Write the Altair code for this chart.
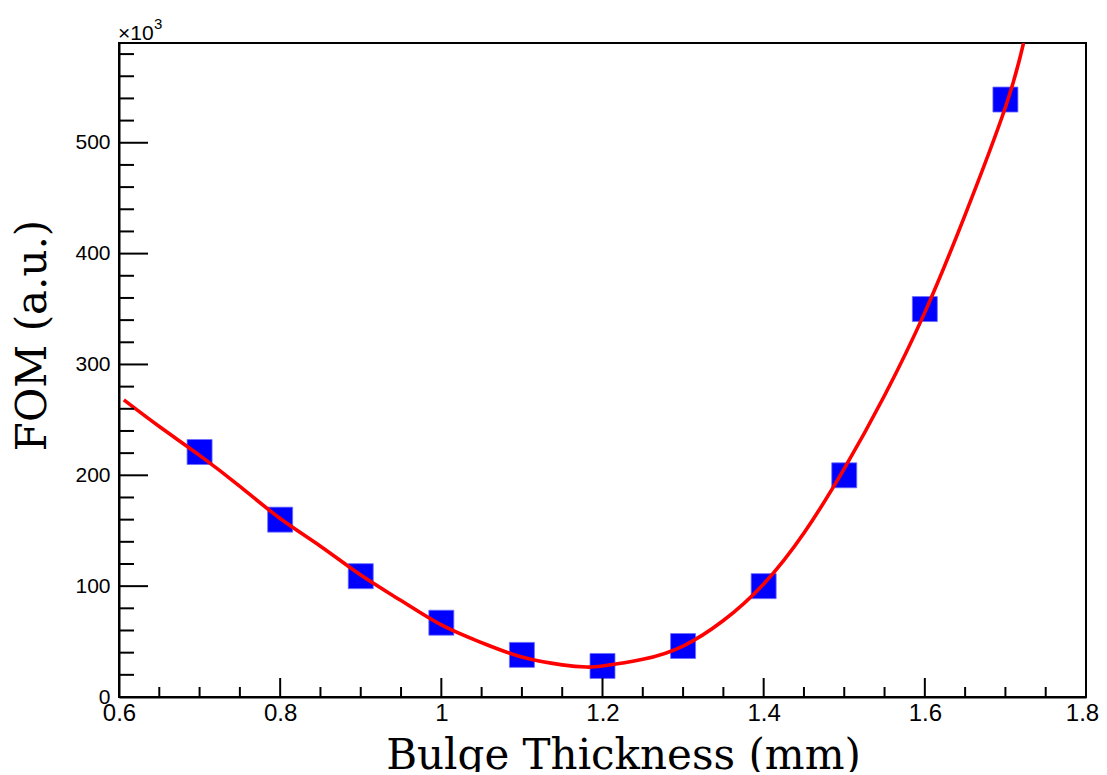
import altair as alt
import pandas as pd

# Measured data points (FOM in units of 10^3)
x_pts = [0.7, 0.8, 0.9, 1.0, 1.1, 1.2, 1.3, 1.4, 1.5, 1.6, 1.7]
y_pts = [221, 160, 109, 67, 38, 28, 46, 100, 200, 350, 539]

# Fit curve
fit_x = [0.606, 0.65, 0.70, 0.75, 0.80, 0.85, 0.90, 0.95, 1.00, 1.05, 1.10, 1.15,
         1.18, 1.20, 1.25, 1.30, 1.35, 1.40, 1.45, 1.50, 1.55, 1.60, 1.65, 1.70, 1.7225]
fit_y = [268, 244, 218, 190, 161, 136, 110, 87, 65, 49, 36, 29,
         27, 28, 34, 46, 69, 102, 148, 206, 272, 347, 435, 532, 590]

# Axis tick values
x_major = [0.6, 0.8, 1.0, 1.2, 1.4, 1.6, 1.8]
x_minor = [0.65, 0.7, 0.75, 0.85, 0.9, 0.95, 1.05, 1.1, 1.15, 1.25, 1.3, 1.35,
           1.45, 1.5, 1.55, 1.65, 1.7, 1.75]
y_major = [0, 100, 200, 300, 400, 500]
y_minor = [20, 40, 60, 80, 120, 140, 160, 180, 220, 240, 260, 280, 320, 340, 360, 380,
           420, 440, 460, 480, 520, 540, 560, 580]

W, H = 967, 654

pts = pd.DataFrame({"x": x_pts, "y": y_pts})
fit = pd.DataFrame({"x": fit_x, "y": fit_y})
xmaj = pd.DataFrame({"x": x_major})
xmin = pd.DataFrame({"x": x_minor})
ymaj = pd.DataFrame({"y": y_major})
ymin = pd.DataFrame({"y": y_minor})

xs = alt.Scale(domain=[0.6, 1.8], nice=False, zero=False)
ys = alt.Scale(domain=[0, 590], nice=False)

x_axis = alt.Axis(values=x_major, format="~g", title="Bulge Thickness (mm)",
                  titleFont="DejaVu Serif", titleFontSize=42, titleFontWeight="normal",
                  titleColor="black", titleX=504, titleY=71, titleAlign="center",
                  titleBaseline="alphabetic", labelFont="Liberation Sans", labelFontSize=24,
                  labelColor="black", labelPadding=4, labelFlush=False, labelOverlap=False,
                  labelOffset={"condition": {"test": "datum.value > 1.79", "value": -4},
                               "value": 0},
                  ticks=False, tickSize=0, domain=True, domainColor="black", domainWidth=2,
                  grid=False)
y_axis = alt.Axis(values=y_major, format="d", title="FOM (a.u.)",
                  titleFont="DejaVu Serif", titleFontSize=42, titleFontWeight="normal",
                  titleColor="black", titleAngle=270, titleX=-74, titleY=292,
                  titleAlign="center", titleBaseline="alphabetic",
                  labelFont="Liberation Sans", labelFontSize=21, labelColor="black",
                  labelPadding=9, labelFlush=False, labelOverlap=False,
                  ticks=False, tickSize=0, domain=True, domainColor="black", domainWidth=2,
                  grid=False)

X = lambda: alt.X("x:Q", scale=xs, axis=x_axis)
Y = lambda: alt.Y("y:Q", scale=ys, axis=y_axis)

points = alt.Chart(pts).mark_square(size=625, color="#0000ff", opacity=1,
                                    stroke="#6f6fff", strokeWidth=0.8).encode(x=X(), y=Y())

line = alt.Chart(fit).mark_line(color="#ff0000", strokeWidth=3.6, interpolate="natural",
                                clip=True).encode(x=X(), y=Y())

xt_major = alt.Chart(xmaj).mark_rule(color="black", strokeWidth=2).encode(
    x=X(), y=alt.value(H), y2=alt.value(H - 19))
xt_minor = alt.Chart(xmin).mark_rule(color="black", strokeWidth=2).encode(
    x=X(), y=alt.value(H), y2=alt.value(H - 10))
yt_major = alt.Chart(ymaj).mark_rule(color="black", strokeWidth=2).encode(
    y=Y(), x=alt.value(0), x2=alt.value(29))
yt_minor = alt.Chart(ymin).mark_rule(color="black", strokeWidth=2).encode(
    y=Y(), x=alt.value(0), x2=alt.value(15))

exp_main = alt.Chart(pd.DataFrame({"t": ["×10"]})).mark_text(
    font="Liberation Sans", fontSize=21, align="left", baseline="alphabetic", color="black"
).encode(text="t:N", x=alt.value(-1), y=alt.value(-3))
exp_sup = alt.Chart(pd.DataFrame({"t": ["3"]})).mark_text(
    font="Liberation Sans", fontSize=15, align="left", baseline="alphabetic", color="black"
).encode(text="t:N", x=alt.value(35), y=alt.value(-14))

chart = alt.layer(points, line, xt_minor, xt_major, yt_minor, yt_major, exp_main, exp_sup).properties(
    width=W, height=H,
    background="white",
    autosize=alt.AutoSizeParams(type="none"),
    padding={"left": 111, "top": 35, "right": 13, "bottom": 75},
).configure_view(stroke="black", strokeWidth=2)

chart.save("out.html", embed_options={"renderer": "svg", "actions": False})
